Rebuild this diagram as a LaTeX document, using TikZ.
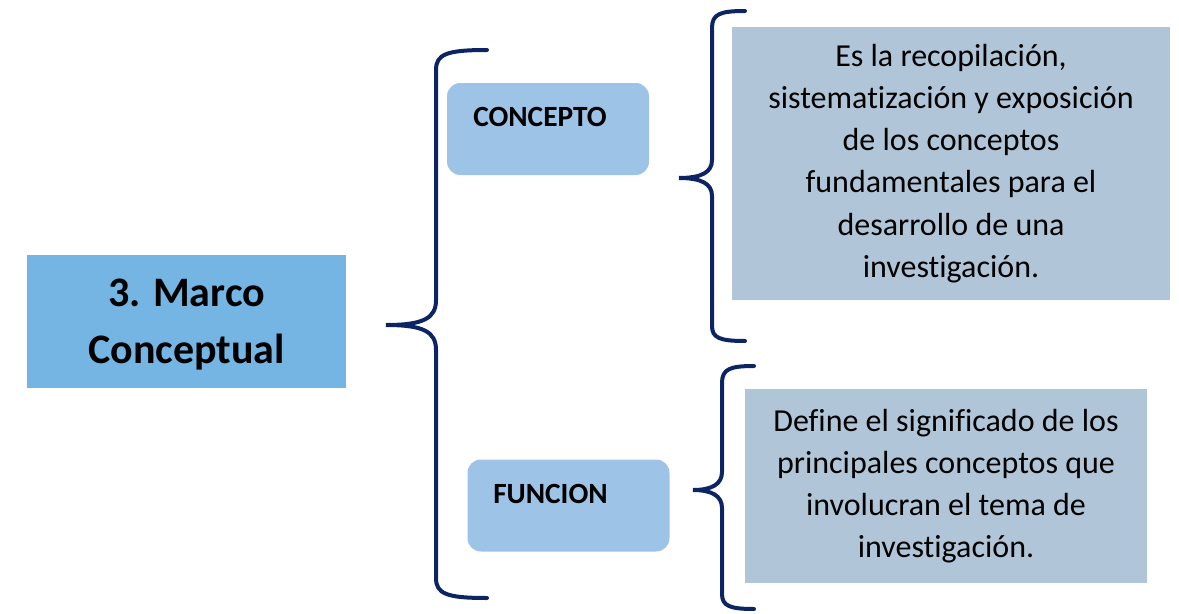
\documentclass[tikz,border=0pt]{standalone}
\usepackage{fontspec}
\setmainfont[Ligatures=NoCommon]{Carlito}
\usepackage{xcolor}
\usepackage{tikz}
\definecolor{azulmarco}{RGB}{117,181,227}
\definecolor{azulclaro}{RGB}{157,195,230}
\definecolor{grisazul}{RGB}{176,198,216}
\definecolor{marino}{RGB}{12,36,100}
\tikzset{
  caja/.style = {inner sep=0pt, align=center},
  marco/.style = {caja, fill=azulmarco, minimum width=239.25pt, minimum height=99.75pt,
    text depth=0pt, font=\fontsize{31.5}{43}\selectfont\bfseries},
  tema/.style = {caja, fill=azulclaro, rounded corners=10pt, minimum width=151.5pt, minimum height=69pt},
  etiq/.style = {inner sep=0pt, font=\fontsize{22}{26}\selectfont\bfseries},
  defi/.style = {caja, fill=grisazul, font=\fontsize{24}{31.6}\selectfont},
  llave/.style = {draw=marino, line width=3pt, line cap=round}
}
\begin{document}
\begin{tikzpicture}[x=0.75pt, y=-0.75pt]
\useasboundingbox (0,0) rectangle (1179,614);
\node [marco] (mc) at (186.5,321.5) {3. Marco\\Conceptual};
\node [tema] (cpt) at (548,129) {};
\node [etiq, anchor=west] (cptx) at (473,117) {CONCEPTO};
\node [tema] (fun) at (568.5,505.5) {};
\node [etiq, anchor=west] (funx) at (493,494) {FUNCION};
\node [defi, minimum width=328.5pt, minimum height=204.75pt] (d1) at (951,163.5)
  {Es la recopilación,\\sistematización y exposición\\de los conceptos\\fundamentales para el\\desarrollo de una\\investigación.};
\node [defi, minimum width=301.5pt, minimum height=145.5pt] (d2) at (946,486)
  {Define el significado de los\\principales conceptos que\\involucran el tema de\\investigación.};
% llaves
\draw [llave] (487,50) .. controls (447,50) and (436,54) .. (436,70) -- (436,300)
  .. controls (436,318) and (424,325) .. (386,325)
  .. controls (424,325) and (436,332) .. (436,350) -- (436,578)
  .. controls (436,594) and (447,598) .. (487,598);
\draw [llave] (745,11) .. controls (720,11) and (712,14) .. (712,28) -- (712,160)
  .. controls (712,172) and (702,178) .. (679,178)
  .. controls (702,178) and (712,184) .. (712,196) -- (712,326)
  .. controls (712,338) and (720,341) .. (745,341);
\draw [llave] (754,366) .. controls (730,366) and (722,369) .. (722,383) -- (722,472)
  .. controls (722,484) and (712,490) .. (693,490)
  .. controls (712,490) and (722,496) .. (722,508) -- (722,594)
  .. controls (722,606) and (730,609) .. (754,609);
\end{tikzpicture}
\end{document}
